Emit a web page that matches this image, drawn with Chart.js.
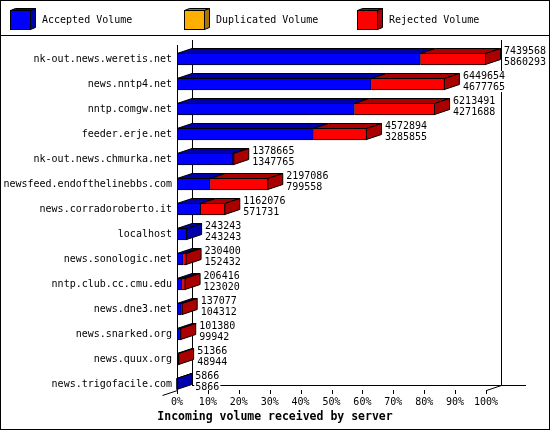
<!DOCTYPE html>
<html><head><meta charset="utf-8">
<script src="https://cdn.jsdelivr.net/npm/chart.js@4/dist/chart.umd.min.js"></script>
<style>html,body{margin:0;padding:0;background:#fff}#wrap{width:550px;height:430px}</style>
</head><body><div id="wrap"><canvas id="c" width="550" height="430"></canvas></div>
<script>
const servers = ['nk-out.news.weretis.net','news.nntp4.net','nntp.comgw.net','feeder.erje.net','nk-out.news.chmurka.net','newsfeed.endofthelinebbs.com','news.corradoroberto.it','localhost','news.sonologic.net','nntp.club.cc.cmu.edu','news.dne3.net','news.snarked.org','news.quux.org','news.trigofacile.com'];
const totalVolume = [7439568,6449654,6213491,4572894,1378665,2197086,1162076,243243,230400,206416,137077,101380,51366,5866];
const acceptedVolume = [5860293,4677765,4271688,3285855,1347765,799558,571731,243243,152432,123020,104312,99942,48944,5866];
const duplicatedVolume = [0,0,0,0,0,0,0,0,0,0,0,0,0,0];
const seriesNames = ['Accepted Volume','Duplicated Volume','Rejected Volume'];
const frontColors = ['#0000FF','#FFAF00','#FF0000'];
const darkColors = ['#0000AA','#AA7400','#AA0000'];
const xTickValues = [0,10,20,30,40,50,60,70,80,90,100];
const axisTitle = 'Incoming volume received by server';

const maxTotal = Math.max(...totalVolume);
const rejectedVolume = totalVolume.map((t,i)=>t-acceptedVolume[i]-duplicatedVolume[i]);
const pct = arr => arr.map(v => v / maxTotal * 100);
const seriesValues = [pct(acceptedVolume), pct(duplicatedVolume), pct(rejectedVolume)];

const DX = 15, DY = 5, BAR = 12;
const FONT = '"DejaVu Sans Mono", "Liberation Mono", monospace';

function poly(ctx, pts, fill) {
  ctx.beginPath();
  ctx.moveTo(pts[0][0], pts[0][1]);
  for (let k = 1; k < pts.length; k++) ctx.lineTo(pts[k][0], pts[k][1]);
  ctx.closePath();
  if (fill) { ctx.fillStyle = fill; ctx.fill(); }
  ctx.stroke();
}

const threeD = {
  id: 'threeD',
  beforeDraw(chart) {
    const {ctx, width, height} = chart;
    ctx.save();
    ctx.fillStyle = '#fff'; ctx.fillRect(0, 0, width, height);
    ctx.strokeStyle = '#000'; ctx.lineWidth = 1;
    ctx.strokeRect(0.5, 0.5, width - 1, height - 1);
    ctx.beginPath(); ctx.moveTo(0, 35.5); ctx.lineTo(width, 35.5); ctx.stroke();
    // legend
    chart.data.datasets.forEach((ds, k) => {
      const bx = Math.round(10 + k * 173.5) + 0.5;
      ctx.fillStyle = ds.backgroundColor; ctx.fillRect(bx, 10.5, 20, 19); ctx.strokeRect(bx, 10.5, 20, 19);
      poly(ctx, [[bx,10.5],[bx+5,8.5],[bx+25,8.5],[bx+20,10.5]], darkColors[k]);
      poly(ctx, [[bx+20,10.5],[bx+25,8.5],[bx+25,27.5],[bx+20,29.5]], darkColors[k]);
      ctx.fillStyle = '#000'; ctx.font = '10px ' + FONT;
      ctx.textAlign = 'left'; ctx.textBaseline = 'middle';
      ctx.fillText(ds.label, bx + 31.5, 20);
    });
    // axis title
    ctx.font = 'bold 11.5px ' + FONT; ctx.textAlign = 'center'; ctx.textBaseline = 'middle';
    ctx.fillStyle = '#000';
    ctx.fillText(axisTitle, 275, 417);
    ctx.restore();
  },
  beforeDatasetsDraw(chart) {
    const {ctx, scales: {x, y}} = chart;
    const n = servers.length;
    const bottomFront = Math.round(y.getPixelForValue(n - 1) + BAR / 2);
    const floorY = bottomFront - DY;
    const L = Math.round(x.getPixelForValue(0));
    const R = Math.round(x.getPixelForValue(100));
    ctx.save();
    ctx.strokeStyle = '#000'; ctx.lineWidth = 1;
    ctx.beginPath();
    ctx.moveTo(L + DX + 0.5, 40); ctx.lineTo(L + DX + 0.5, floorY + 0.5);
    ctx.moveTo(R + DX + 0.5, 40); ctx.lineTo(R + DX + 0.5, floorY + 0.5);
    ctx.moveTo(L + DX, floorY + 0.5); ctx.lineTo(R + DX + 25, floorY + 0.5);
    ctx.moveTo(L + 0.5, bottomFront + 0.5); ctx.lineTo(L - 14.5, bottomFront + 5.5);
    ctx.moveTo(R + 0.5, bottomFront + 0.5); ctx.lineTo(R + DX + 0.5, floorY + 0.5);
    ctx.stroke();
    ctx.restore();
  },
  afterDatasetsDraw(chart) {
    const {ctx, scales: {x, y}} = chart;
    const n = servers.length;
    const L = Math.round(x.getPixelForValue(0));
    const bottomFront = Math.round(y.getPixelForValue(n - 1) + BAR / 2);
    ctx.save();
    ctx.strokeStyle = '#000'; ctx.lineWidth = 1;
    for (let i = 0; i < n; i++) {
      const segs = [];
      chart.data.datasets.forEach((ds, d) => {
        const el = chart.getDatasetMeta(d).data[i];
        const p = el.getProps(['x', 'y', 'base', 'height'], true);
        if (ds.data[i] > 0) segs.push({x0: Math.min(p.x, p.base), x1: Math.max(p.x, p.base), yc: p.y, h: p.height, d});
      });
      if (!segs.length) continue;
      segs.forEach(s => {
        const yt = s.yc - s.h / 2 + 0.5;
        poly(ctx, [[s.x0, yt], [s.x0 + DX, yt - DY], [s.x1 - 0.5 + DX, yt - DY], [s.x1 - 0.5, yt]], darkColors[s.d]);
      });
      const last = segs[segs.length - 1];
      const yt = last.yc - last.h / 2 + 0.5, yb = last.yc + last.h / 2 - 0.5;
      const xe = last.x1 - 0.5;
      poly(ctx, [[xe, yt], [xe + DX, yt - DY], [xe + DX, yb - DY], [xe, yb]], darkColors[last.d]);
      // value labels
      ctx.font = '10px ' + FONT; ctx.textAlign = 'left'; ctx.textBaseline = 'alphabetic';
      const tx = last.x1 + DX + 3;
      const t1 = String(totalVolume[i]), t2 = String(acceptedVolume[i]);
      const w = Math.max(ctx.measureText(t1).width, ctx.measureText(t2).width);
      ctx.fillStyle = '#fff';
      ctx.fillRect(tx - 1, last.yc - 13, w + 2, 21);
      ctx.fillStyle = '#000';
      ctx.fillText(t1, tx, last.yc - 5);
      ctx.fillText(t2, tx, last.yc + 6);
    }
    // front axis
    ctx.beginPath();
    ctx.moveTo(L + 0.5, 45); ctx.lineTo(L + 0.5, bottomFront + 0.5);
    // tick marks
    xTickValues.forEach(v => {
      const px = Math.round(x.getPixelForValue(v)) + 0.5;
      ctx.moveTo(px, bottomFront); ctx.lineTo(px, bottomFront + 4);
    });
    ctx.stroke();
    ctx.restore();
  }
};

new Chart(document.getElementById('c'), {
  type: 'bar',
  data: {
    labels: servers,
    datasets: seriesNames.map((name, k) => ({
      label: name,
      data: seriesValues[k],
      backgroundColor: frontColors[k],
      borderColor: '#000',
      borderWidth: 1,
      barThickness: BAR,
      stack: 'vol'
    }))
  },
  options: {
    indexAxis: 'y',
    responsive: false,
    animation: false,
    devicePixelRatio: 1,
    layout: { padding: { top: 46.5, right: 64, left: 0, bottom: 0 } },
    plugins: { legend: { display: false }, tooltip: { enabled: false }, title: { display: false } },
    scales: {
      x: {
        stacked: true, min: 0, max: 100,
        grid: { display: false, drawTicks: false },
        border: { display: false },
        afterBuildTicks: s => { s.ticks = xTickValues.map(v => ({ value: v })); },
        afterFit: s => { s.height = 33.5; },
        ticks: { padding: 0, color: '#000', font: { family: FONT, size: 10 }, maxRotation: 0, autoSkip: false, callback: v => v + '%' }
      },
      y: {
        stacked: true,
        grid: { display: false, drawTicks: false },
        border: { display: false },
        afterFit: s => { s.width = 177; },
        ticks: { padding: 5, color: '#000', font: { family: FONT, size: 10 }, autoSkip: false }
      }
    }
  },
  plugins: [threeD]
});
</script>
</body></html>
